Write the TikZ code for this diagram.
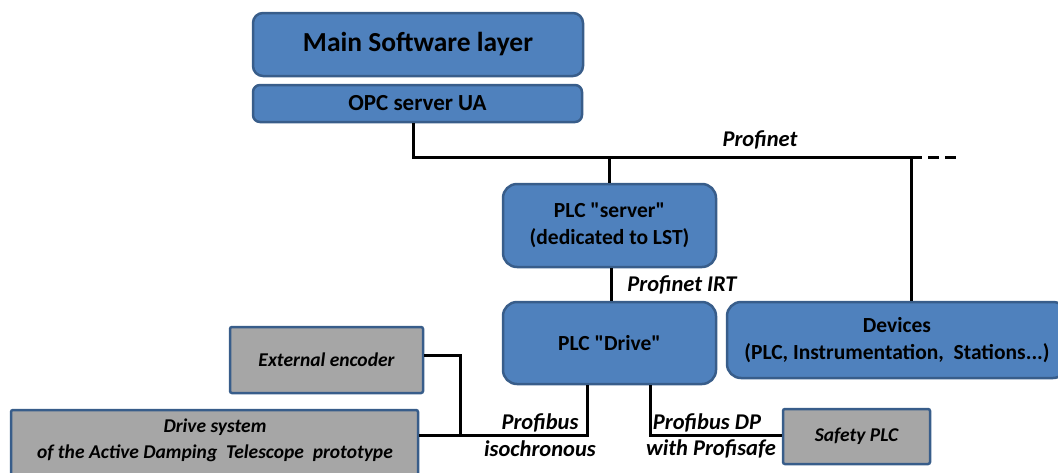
\documentclass[tikz,border=0pt]{standalone}
\usepackage{fontspec}
\setmainfont{Carlito}[Ligatures=TeXOff]
\definecolor{boxblue}{HTML}{4F81BD}
\definecolor{boxedge}{HTML}{385D8A}
\definecolor{boxgray}{HTML}{A6A6A6}
\begin{document}
\begin{tikzpicture}[x=1pt,y=-1pt,
  bluebox/.style={draw=boxedge,line width=2.5pt,fill=boxblue,rounded corners=10pt,
    align=center,inner sep=0pt,font=\bfseries\fontsize{21.5}{27}\selectfont},
  graybox/.style={draw=boxedge,line width=2.5pt,fill=boxgray,rounded corners=2pt,
    align=center,inner sep=0pt,font=\bfseries\itshape\fontsize{19.5}{26}\selectfont},
  wire/.style={line width=3pt,draw=black},
  buslabel/.style={font=\bfseries\itshape\fontsize{22.5}{26}\selectfont,inner sep=0pt}]
\useasboundingbox (0,0) rectangle (1058,472);
\clip (0,0) rectangle (1058,472);

% software layers
\node[bluebox,minimum width=330pt,minimum height=63pt,font=\bfseries\fontsize{27.5}{30}\selectfont]
  (main) at (418,44.5) {Main Software layer};
\node[bluebox,minimum width=329pt,minimum height=37pt,rounded corners=7pt,font=\bfseries\fontsize{23}{26}\selectfont]
  (opc) at (417.5,103.5) {OPC server UA};

% PLCs and devices
\node[bluebox,minimum width=213pt,minimum height=83pt,rounded corners=14pt]
  (server) at (609.5,225.5) {PLC "server"\\(dedicated to LST)};
\node[bluebox,minimum width=213pt,minimum height=82pt,rounded corners=14pt]
  (drive) at (609.5,343) {PLC "Drive"};
\node[bluebox,minimum width=340pt,minimum height=76pt,rounded corners=14pt]
  (devices) at (897,340) {Devices\\(PLC, Instrumentation,\ \ Stations...)};

% field equipment
\node[graybox,minimum width=193pt,minimum height=66pt] (encoder) at (326.5,360) {External encoder};
\node[graybox,minimum width=407pt,minimum height=75pt] (drivesys) at (214.5,447.5) {};
\node[font=\bfseries\itshape\fontsize{19.5}{26}\selectfont,align=center,inner sep=0pt,anchor=north]
  (drivetxt) at (215,419) {Drive system\\of the Active Damping\ \ Telescope\ \ prototype};
\node[graybox,minimum width=147pt,minimum height=55pt] (safety) at (856.5,436.5) {Safety PLC};

% Profinet bus
\coordinate (busL) at (413,157);
\coordinate (busR) at (911,157);
\coordinate (busEnd) at (958,157);
\draw[wire] (opc.south -| busL) -- (busL) -- (busR);
\draw[wire,dash pattern=on 11pt off 6pt] (busR) -- (busEnd);
\draw[wire] (server.north |- busL) -- (server.north);
\draw[wire] (busR) -- (busR |- devices.north);
\node[buslabel] (lblpn) at (760,140) {Profinet};

% Profinet IRT link
\draw[wire] ([xshift=2pt]server.south) -- ([xshift=2pt]drive.north);
\node[buslabel] (lblirt) at (682,285) {Profinet IRT};

% Profibus isochronous
\coordinate (jn) at (460,435);
\coordinate (drvL) at (587,435);
\draw[wire] (encoder.east |- 0,355) -- (460,355) -- (jn);
\draw[wire] (drivesys.east |- jn) -- (drvL) -- (drvL |- drive.south);
\node[buslabel] (lblpb1) at (540,423) {Profibus};
\node[buslabel] (lblpb2) at (540,449) {isochronous};

% Profibus DP with Profisafe
\coordinate (drvR) at (650,435);
\draw[wire] (drvR |- drive.south) -- (drvR) -- (safety.west |- drvR);
\node[buslabel] (lbldp1) at (707,423) {Profibus DP};
\node[buslabel] (lbldp2) at (711,449) {with Profisafe};
\end{tikzpicture}
\end{document}
